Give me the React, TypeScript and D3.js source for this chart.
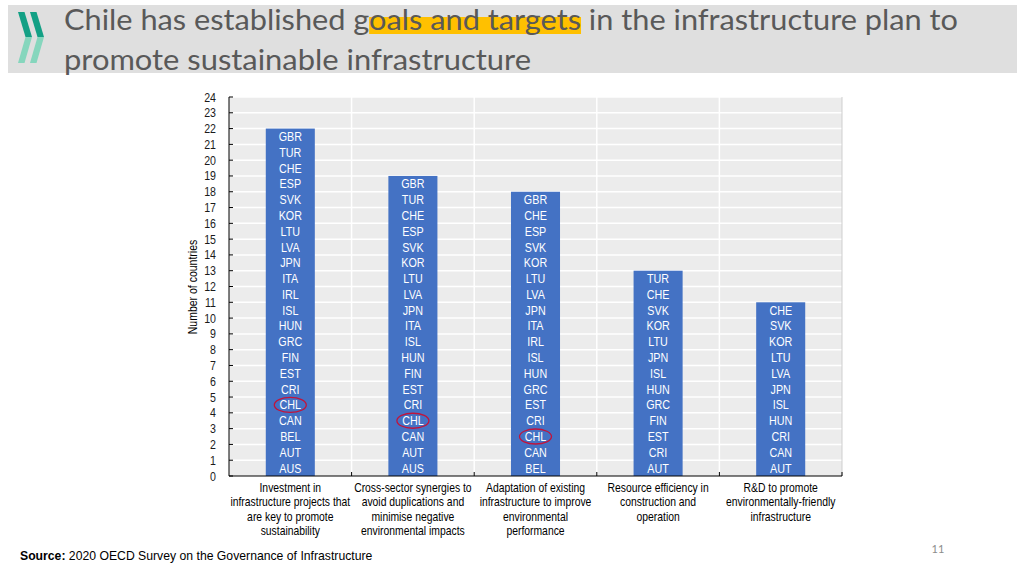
import React, { useLayoutEffect, useRef, useState } from "react";
import * as d3 from "d3";

const categoryLines: string[][] = [
  ["Investment in", "infrastructure projects that", "are key to promote", "sustainability"],
  ["Cross-sector synergies to", "avoid duplications and", "minimise negative", "environmental impacts"],
  ["Adaptation of existing", "infrastructure to improve", "environmental", "performance"],
  ["Resource efficiency in", "construction and", "operation"],
  ["R&D to promote", "environmentally-friendly", "infrastructure"],
];
const categories = ["invest", "synergies", "adaptation", "efficiency", "rnd"];
const values = [22, 19, 18, 13, 11];

// listed bottom to top
const countries1 = ["AUS", "AUT", "BEL", "CAN", "CHL", "CRI", "EST", "FIN", "GRC", "HUN", "ISL", "IRL", "ITA", "JPN", "LVA", "LTU", "KOR", "SVK", "ESP", "CHE", "TUR", "GBR"];
const countries2 = ["AUS", "AUT", "CAN", "CHL", "CRI", "EST", "FIN", "HUN", "ISL", "ITA", "JPN", "LVA", "LTU", "KOR", "SVK", "ESP", "CHE", "TUR", "GBR"];
const countries3 = ["BEL", "CAN", "CHL", "CRI", "EST", "GRC", "HUN", "ISL", "IRL", "ITA", "JPN", "LVA", "LTU", "KOR", "SVK", "ESP", "CHE", "GBR"];
const countries4 = ["AUT", "CRI", "EST", "FIN", "GRC", "HUN", "ISL", "JPN", "LTU", "KOR", "SVK", "CHE", "TUR"];
const countries5 = ["AUT", "CAN", "CRI", "HUN", "ISL", "JPN", "LVA", "LTU", "KOR", "SVK", "CHE"];
const countryLists = [countries1, countries2, countries3, countries4, countries5];
const highlightCountry = "CHL";

const yTicks = d3.range(0, 25);

const titleLine1Pre = "Chile has established g";
const titleLine1Hi = "oals and targets";
const titleLine1Post = " in the infrastructure plan to";
const titleLine2 = "promote sustainable infrastructure";

const narrow = "'Liberation Sans', Arial, sans-serif";
const titleFont = "Lato, 'Open Sans', sans-serif";

function NText({
  x,
  y,
  sx = 0.86,
  size = 12,
  anchor = "middle",
  fill = "#000",
  rotate = 0,
  children,
}: {
  x: number;
  y: number;
  sx?: number;
  size?: number;
  anchor?: string;
  fill?: string;
  rotate?: number;
  children: React.ReactNode;
}) {
  return (
    <g transform={`translate(${x},${y}) rotate(${rotate}) scale(${sx},1)`}>
      <text x={0} y={0} textAnchor={anchor as any} fontFamily={narrow} fontSize={size} fill={fill}>
        {children}
      </text>
    </g>
  );
}

export default function App() {
  const x = d3.scaleBand<string>().domain(categories).range([229, 842]).paddingInner(0.6).paddingOuter(0.3);
  const y = d3.scaleLinear().domain([0, 24]).range([476, 97]);
  const step = x.step();
  const boundaries = d3.range(1, categories.length + 1).map((i) => 229 + i * step);

  const textRef = useRef<SVGTextElement>(null);
  const [hi, setHi] = useState<{ x0: number; x1: number } | null>(null);

  useLayoutEffect(() => {
    const t = textRef.current;
    if (!t) return;
    try {
      const start = titleLine1Pre.length;
      const end = start + titleLine1Hi.length - 1;
      const p0 = t.getStartPositionOfChar(start);
      const p1 = t.getEndPositionOfChar(end);
      setHi({ x0: p0.x, x1: p1.x });
    } catch (e) {
      setHi({ x0: 368, x1: 580 });
    }
  }, []);

  return (
    <svg width={1024} height={576} style={{ position: "absolute", left: 0, top: 0, background: "#fff" }}>
      {/* title band */}
      <rect x={8} y={5} width={1009} height={68} fill="#dfdfdf" />
      {/* logo */}
      <g>
        <polygon points="18,12 24.5,12 32,37 25.5,37" fill="#13a085" />
        <polygon points="25.5,37 32,37 24.5,63 18,63" fill="#86d6bd" />
        <polygon points="30,12 36.5,12 44,37 37.5,37" fill="#13a085" />
        <polygon points="37.5,37 44,37 36.5,63 30,63" fill="#86d6bd" />
      </g>
      {hi && <rect x={hi.x0} y={17} width={hi.x1 - hi.x0} height={17} fill="#ffc000" />}
      <text ref={textRef} x={64} y={30} fontFamily={titleFont} fontSize={29} fill="#595959" textLength={894} lengthAdjust="spacingAndGlyphs">
        {titleLine1Pre}
        <tspan>{titleLine1Hi}</tspan>
        {titleLine1Post}
      </text>
      <text x={64} y={70} fontFamily={titleFont} fontSize={29} fill="#595959" textLength={467} lengthAdjust="spacingAndGlyphs">
        {titleLine2}
      </text>

      {/* plot background */}
      <rect x={229} y={y(24)} width={842 - 229} height={y(0) - y(24)} fill="#ececec" />
      {yTicks.filter((t) => t > 0).map((t) => (
        <line key={"g" + t} x1={229} x2={842} y1={y(t)} y2={y(t)} stroke="#fff" strokeWidth={1.5} />
      ))}
      {boundaries.slice(0, -1).map((b, i) => (
        <line key={"vb" + i} x1={b} x2={b} y1={y(24)} y2={y(0)} stroke="#fff" strokeWidth={1.5} />
      ))}
      <line x1={842} x2={842} y1={y(24)} y2={y(0)} stroke="#cfcfcf" strokeWidth={1} />

      {/* bars */}
      {categories.map((c, i) => (
        <rect key={c} x={x(c)} y={y(values[i])} width={x.bandwidth()} height={y(0) - y(values[i])} fill="#4472c4" />
      ))}
      {/* country labels */}
      {categories.map((c, i) =>
        countryLists[i].map((code, j) => {
          const cx = (x(c) as number) + x.bandwidth() / 2;
          const cy = y(j + 0.5);
          return (
            <g key={c + code}>
              <NText x={cx} y={cy + 4.5} size={12.5} sx={0.86} fill="#fff">
                {code}
              </NText>
              {code === highlightCountry && (
                <ellipse cx={cx} cy={cy} rx={16} ry={7.5} fill="none" stroke="#c0143c" strokeWidth={1.3} />
              )}
            </g>
          );
        })
      )}

      {/* axes */}
      <line x1={229} x2={229} y1={y(24)} y2={y(0)} stroke="#000" strokeWidth={1} />
      <line x1={229} x2={842} y1={y(0)} y2={y(0)} stroke="#000" strokeWidth={1} />
      {yTicks.map((t) => (
        <g key={"yt" + t}>
          <line x1={229} x2={233} y1={y(t)} y2={y(t)} stroke="#000" />
          <NText x={216} y={y(t) + 4.5} size={12.5} sx={0.85} anchor="end" fill="#1a1a1a">
            {t}
          </NText>
        </g>
      ))}
      {boundaries.map((b, i) => (
        <line key={"xt" + i} x1={b} x2={b} y1={y(0)} y2={y(0) - 4} stroke="#000" />
      ))}
      {categories.map((c, i) => {
        const cx = (x(c) as number) + x.bandwidth() / 2;
        return (
          <g key={"xl" + c}>
            {categoryLines[i].map((ln, k) => (
              <NText key={k} x={cx} y={492 + k * 14.3} size={12.5} sx={0.83}>
                {ln}
              </NText>
            ))}
          </g>
        );
      })}
      <NText x={197} y={287} rotate={-90} size={12.5} sx={0.84}>
        Number of countries
      </NText>

      {/* footer */}
      <NText x={20} y={560} size={13} sx={0.94} anchor="start">
        <tspan fontWeight="bold">Source:</tspan> 2020 OECD Survey on the Governance of Infrastructure
      </NText>
      <text x={938} y={553} textAnchor="middle" fontFamily={titleFont} fontSize={11} fill="#8c8c8c">
        11
      </text>
    </svg>
  );
}
